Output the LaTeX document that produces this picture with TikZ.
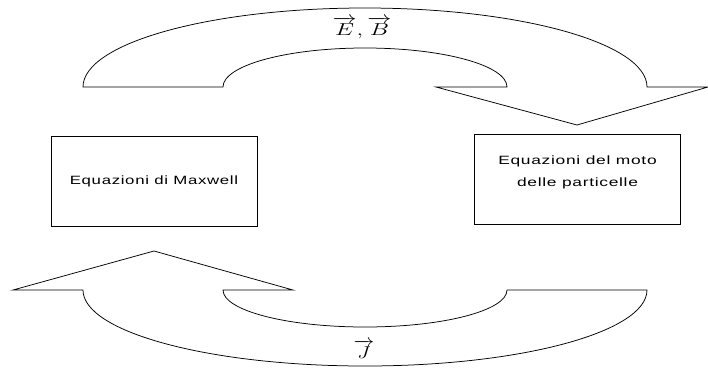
\documentclass[tikz,border=0pt]{standalone}
\usepackage{amsmath}
\usepackage{fontspec}
\usepackage{graphicx}
\usepackage{tikz}
\newfontfamily\boxfont[LetterSpace=4]{Liberation Sans}
\newcommand{\stretchx}[2][1.3]{\scalebox{#1}[1]{#2}}
\tikzset{every picture/.style={line width=0.75pt}}
\tikzset{
  eqbox/.style={draw, minimum width=206pt, minimum height=90pt, inner sep=0pt},
  eqtext/.style={font=\boxfont\fontsize{12}{22}\selectfont, align=center, inner sep=0pt},
  vecl/.style={font=\fontsize{16}{19}\selectfont, inner sep=0pt}
}

\begin{document}
\begin{tikzpicture}[x=1pt,y=1pt,yscale=-1,xscale=1]
    \useasboundingbox (0,0) rectangle (708,367);
    \node[eqbox,eqtext] (maxwell) at (154,181) {\stretchx[1.4]{Equazioni di Maxwell}};
    \node[eqbox] (moto) at (577.5,179.5) {};
    \node[eqtext] (motoT) at (577.5,172) {\stretchx[1.45]{Equazioni del moto}\\\stretchx[1.45]{delle particelle}};
    \draw (83,87) arc[start angle=180, end angle=360, x radius=282, y radius=79] -- (708,87) -- (577,125) -- (436,87) -- (507,87) arc[start angle=0, end angle=-180, x radius=142, y radius=39] -- cycle;
    \draw (83,290) arc[start angle=180, end angle=0, x radius=282, y radius=76] -- (507,290) arc[start angle=0, end angle=180, x radius=142, y radius=37] -- (293,290) -- (154,251) -- (13,290) -- cycle;
    \node[vecl] (fields) at (362,28) {\scalebox{1.4}[1]{$\overrightarrow{E},\overrightarrow{B}$}};
    \node[vecl] (current) at (364,349) {\scalebox{1.2}[1]{$\overrightarrow{J}$}};
\end{tikzpicture}
\end{document}
